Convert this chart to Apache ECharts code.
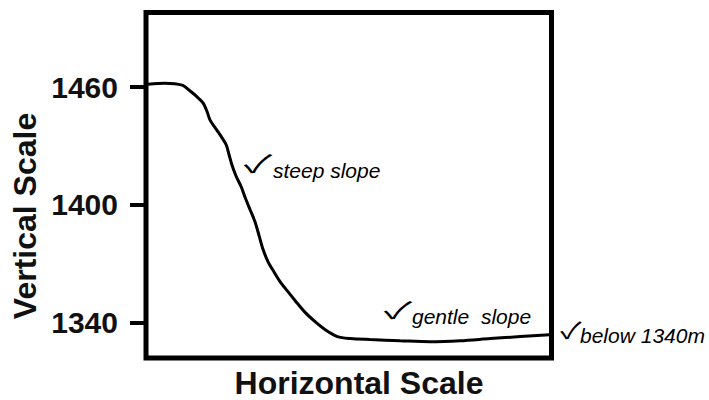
<!DOCTYPE html>
<html>
<head>
<meta charset="utf-8">
<script src="https://cdn.jsdelivr.net/npm/echarts@6/dist/echarts.min.js"></script>
<style>
html,body{margin:0;padding:0;background:#fff;}
#chart{width:709px;height:400px;}
</style>
</head>
<body>
<div id="chart"></div>
<script>
// Horizontal position (0-100 across the box) and elevation (m)
var xValues = [0.5, 4.7, 8.9, 10.9, 12.6, 14.1, 15.1, 15.8, 17.3, 18.8, 19.8, 20.5, 21.2, 22.2, 23.5, 24.4, 25.7, 26.9, 27.9, 28.9, 30.1, 31.4, 33.1, 34.8, 36.8, 39.3, 41.7, 44.2, 47.2, 50.4, 55.3, 62.7, 70.1, 77.5, 84.9, 92.3, 99.5];
var elevations = [1461.5, 1462, 1461, 1458, 1455, 1451.8, 1447.3, 1443.2, 1438.6, 1434, 1430.5, 1425.4, 1420.3, 1414.7, 1409.1, 1404, 1397.4, 1391.3, 1384.2, 1377.1, 1371, 1366.4, 1360.8, 1356.3, 1351.2, 1345.1, 1340.5, 1336.4, 1332.9, 1331.9, 1331.4, 1330.8, 1330.3, 1330.8, 1331.9, 1332.9, 1333.9];
var yTickValues = [1340, 1400, 1460];
var yAxisTitle = 'Vertical Scale';
var xAxisTitle = 'Horizontal Scale';
var notes = ['steep slope', 'gentle slope', 'below 1340m'];

var seriesData = xValues.map(function (x, i) { return [x, elevations[i]]; });

var chart = echarts.init(document.getElementById('chart'), null, {renderer: 'svg'});
var boldFont = 'Liberation Sans, Arial, sans-serif';
function check(x, y, size, sx, sy) {
  return {type: 'text', x: x, y: y, scaleX: sx, scaleY: sy,
    style: {text: '\u2713', align: 'center', verticalAlign: 'middle', font: size + 'px Noto Sans CJK JP', fill: '#000'}};
}
chart.setOption({
  animation: false,
  backgroundColor: '#fff',
  grid: {
    left: 146, right: 157.5, top: 12.5, bottom: 42,
    show: true, borderWidth: 5, borderColor: '#000', backgroundColor: 'transparent'
  },
  xAxis: {
    type: 'value', min: 0, max: 100, show: false
  },
  yAxis: {
    type: 'value', min: 1322, max: 1498,
    axisLine: {show: false},
    splitLine: {show: false},
    axisTick: {show: true, inside: false, length: 16, lineStyle: {color: '#000', width: 4}, customValues: yTickValues},
    axisLabel: {
      show: true, margin: 28, customValues: yTickValues,
      formatter: function (v) { return String(v); },
      fontFamily: boldFont, fontWeight: 'bold', fontSize: 30, color: '#111'
    }
  },
  series: [{
    type: 'line',
    data: seriesData,
    showSymbol: false,
    smooth: 0.3,
    lineStyle: {color: '#000', width: 3},
    z: 3
  }],
  graphic: [
    {type: 'text', x: 25, y: 216, rotation: Math.PI / 2,
     style: {text: yAxisTitle, x: 0, y: 0, align: 'center', verticalAlign: 'middle', lineHeight: 30, font: 'bold 32px Liberation Sans, Arial, sans-serif', fill: '#111'}},
    {type: 'text', x: 359, y: 383,
     style: {text: xAxisTitle, x: 0, y: 0, align: 'center', verticalAlign: 'middle', lineHeight: 28, font: 'bold 32px Liberation Sans, Arial, sans-serif', fill: '#111'}},
    check(258, 162, 26, 1.6, 0.95),
    {type: 'text', x: 273, y: 170,
     style: {text: notes[0], align: 'left', verticalAlign: 'middle', font: 'italic 21px Liberation Sans, Arial, sans-serif', fill: '#000'}},
    check(398, 309, 26, 1.6, 0.9),
    {type: 'text', x: 412, y: 316,
     style: {text: notes[1].replace(' ', '  '), align: 'left', verticalAlign: 'middle', font: 'italic 21px Liberation Sans, Arial, sans-serif', fill: '#000'}},
    check(571, 329, 24, 1.3, 0.95),
    {type: 'text', x: 580, y: 335,
     style: {text: notes[2], align: 'left', verticalAlign: 'middle', font: 'italic 21px Liberation Sans, Arial, sans-serif', fill: '#000'}}
  ]
});
</script>
</body>
</html>
